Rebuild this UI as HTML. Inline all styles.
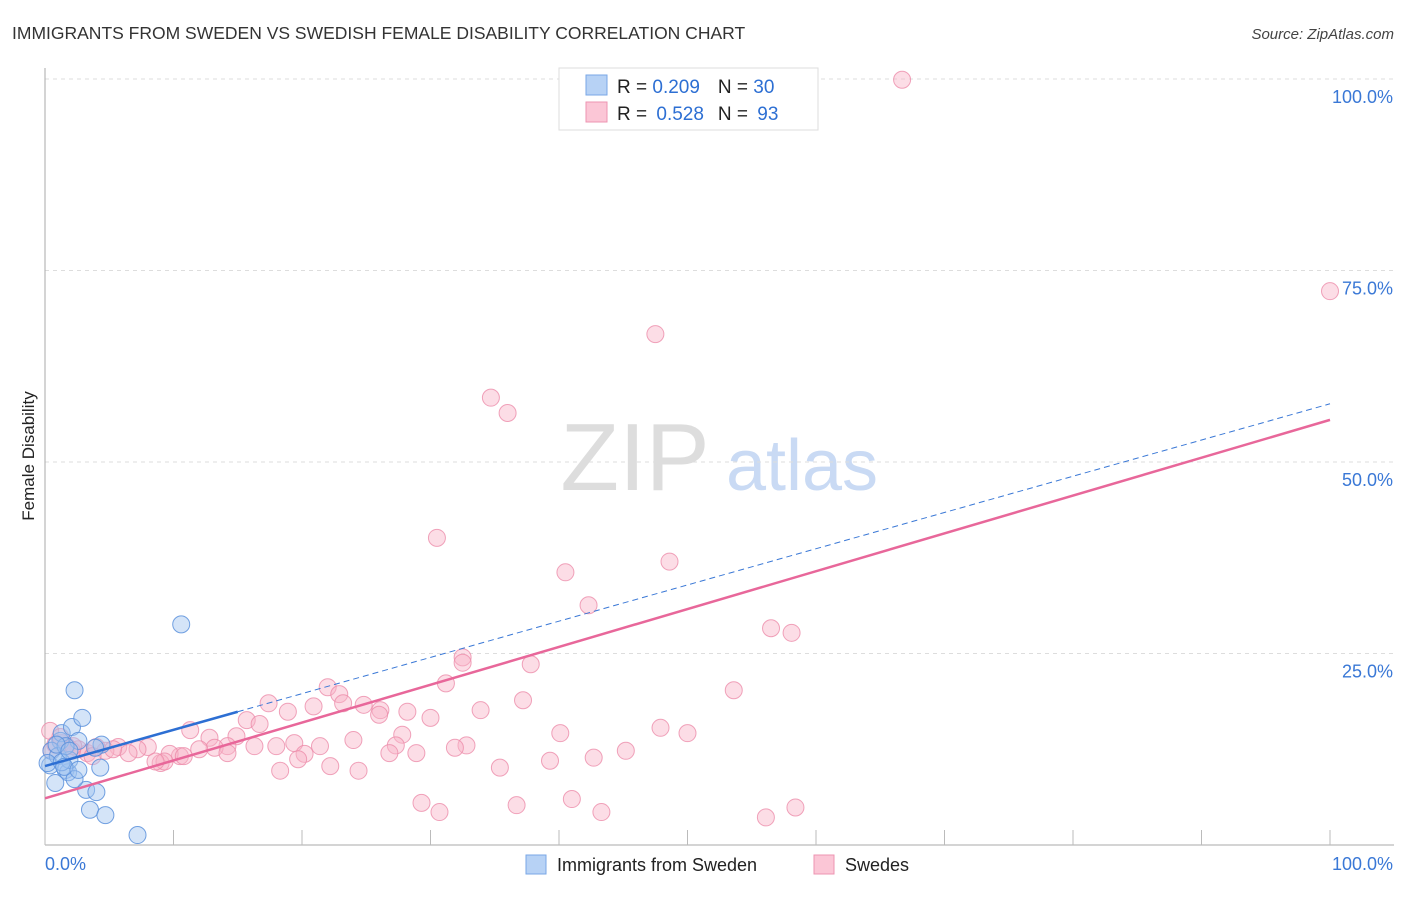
<!DOCTYPE html>
<html><head><meta charset="utf-8"><style>
body{margin:0;background:#fff;font-family:"Liberation Sans",sans-serif;}
svg text{font-family:"Liberation Sans",sans-serif;}
</style></head><body>
<svg id="chart" width="1406" height="892" xmlns="http://www.w3.org/2000/svg">
<text x="12" y="39" font-size="17.5" fill="#333">IMMIGRANTS FROM SWEDEN VS SWEDISH FEMALE DISABILITY CORRELATION CHART</text>
<text x="1394" y="39" font-size="15" fill="#444" text-anchor="end" font-style="italic">Source: ZipAtlas.com</text>
<text x="34" y="456" font-size="17" fill="#222" text-anchor="middle" transform="rotate(-90 34 456)">Female Disability</text>
<g><text x="635" y="490" font-size="96" fill="#ddd" text-anchor="middle" font-family="Liberation Serif,serif">ZIP</text><text x="802" y="490" font-size="72" fill="#c9daf4" text-anchor="middle">atlas</text></g>
<g id="grid"></g><g id="axes"></g><g id="pts"></g><g id="lines"></g>
<g>
<rect x="559" y="68" width="259" height="62" fill="#fff" stroke="#ddd"/>
<rect x="586" y="75" width="21" height="20" fill="#b7d2f5" stroke="#7aa7e6"/>
<rect x="586" y="102" width="21" height="20" fill="#fbc6d6" stroke="#ee94b2"/>
<text x="617" y="93" font-size="19" fill="#222">R = <tspan fill="#2d6fd3">0.209</tspan><tspan dx="18">N = </tspan><tspan fill="#2d6fd3">30</tspan></text>
<text x="617" y="120" font-size="19" fill="#222">R = <tspan fill="#2d6fd3" dx="4">0.528</tspan><tspan dx="14">N = </tspan><tspan fill="#2d6fd3" dx="4">93</tspan></text>
</g>
<g>
<rect x="526" y="855" width="20" height="19" fill="#b7d2f5" stroke="#7aa7e6"/>
<text x="557" y="871" font-size="18" fill="#222">Immigrants from Sweden</text>
<rect x="814" y="855" width="20" height="19" fill="#fbc6d6" stroke="#ee94b2"/>
<text x="845" y="871" font-size="18" fill="#222">Swedes</text>
</g>
</svg>
<script>
const yTicks=[25,50,75,100];
const yTickLabels=["25.0%","50.0%","75.0%","100.0%"];
const xTicks=[0,10,20,30,40,50,60,70,80,90,100];
const blueX=[0.4,0.8,1.2,1.3,1.6,1.8,1.9,2.1,2.3,2.6,2.9,3.2,3.5,4.0,4.3,4.4,4.7,7.2,10.6,0.5,1.0,0.2,1.6,2.3,1.3,0.9,1.9,3.9,1.5,2.6];
const blueY=[10.4,8.1,13.6,14.6,9.8,9.5,11.1,15.4,20.2,13.6,16.6,7.2,4.6,6.9,10.1,13.1,3.9,1.3,28.8,12.3,11.6,10.7,12.9,8.6,10.8,13.1,12.3,12.7,10.2,9.8];
const pinkX=[66.7,100,47.5,34.7,36.0,30.5,40.5,48.6,42.3,56.5,58.1,32.5,32.5,37.8,31.2,53.6,22.0,17.4,22.9,23.2,20.9,18.9,24.8,26.1,26.0,28.2,30.0,37.2,33.9,15.7,11.3,16.7,14.9,47.9,50.0,40.1,27.8,24.0,12.8,19.4,21.4,18.0,16.3,14.2,27.3,13.2,12.0,32.8,31.9,45.2,26.8,28.9,20.2,19.7,10.5,9.7,8.0,7.2,5.7,4.7,3.3,2.6,1.3,0.5,0.4,0.8,1.7,2.1,4.0,6.5,9.0,9.3,8.6,10.8,14.2,42.7,39.3,22.2,24.4,35.4,18.3,29.3,30.7,36.7,41.0,43.3,56.1,58.4,1.2,2.2,3.7,5.3];
const pinkY=[99.9,72.3,66.7,58.4,56.4,40.1,35.6,37.0,31.3,28.3,27.7,24.5,23.8,23.6,21.1,20.2,20.6,18.5,19.7,18.5,18.1,17.4,18.3,17.6,17.0,17.4,16.6,18.9,17.6,16.3,15.0,15.8,14.2,15.3,14.6,14.6,14.4,13.7,14.0,13.3,12.9,12.9,12.9,12.9,13.0,12.7,12.5,13.0,12.7,12.3,12.0,12.0,11.9,11.2,11.6,11.9,12.8,12.5,12.8,12.3,12.0,12.5,13.3,12.3,14.9,13.1,12.9,12.3,12.8,12.0,10.7,10.9,10.9,11.6,12.0,11.4,11.0,10.3,9.7,10.1,9.7,5.5,4.3,5.2,6.0,4.3,3.6,4.9,14.1,12.9,11.6,12.5];
const blueFit=[10.3,57.6];
const pinkFit=[6.1,55.5];
const NS="http://www.w3.org/2000/svg";
const X0=45,X1=1330,Y0=845,Y1=79;
function sx(v){return X0+(X1-X0)*v/100;}
function sy(v){return Y0-(Y0-Y1)*v/100;}
function mk(t,a,p){const e=document.createElementNS(NS,t);for(const k in a)e.setAttribute(k,a[k]);p.appendChild(e);return e;}
const grid=document.getElementById('grid'),axes=document.getElementById('axes'),pts=document.getElementById('pts'),lines=document.getElementById('lines');
yTicks.forEach((v,i)=>{
 const l=mk('line',{x1:X0,x2:1394,y1:sy(v),y2:sy(v),stroke:'#ddd','stroke-dasharray':'4,4'},grid);
 
 
 const t=mk('text',{x:1393,y:sy(v)+24,'font-size':18,fill:'#3a78d6','text-anchor':'end'},axes);
 t.textContent=yTickLabels[i];
 
 
});
let a=mk('line',{x1:X0,x2:X0,y1:68,y2:Y0,stroke:'#aaa'},axes);


a=mk('line',{x1:X0,x2:1394,y1:Y0,y2:Y0,stroke:'#aaa'},axes);


xTicks.forEach(v=>{
 const t=mk('line',{x1:sx(v),x2:sx(v),y1:Y0,y2:Y0-15,stroke:'#bbb'},axes);
 
 
});
let t=mk('text',{x:45,y:870,'font-size':18,fill:'#3a78d6'},axes);t.textContent='0.0%';


t=mk('text',{x:1393,y:870,'font-size':18,fill:'#3a78d6','text-anchor':'end'},axes);t.textContent='100.0%';


pinkX.forEach((x,i)=>{
 const c=mk('circle',{cx:sx(x),cy:sy(pinkY[i]),r:8.5,fill:'rgba(248,180,200,0.45)',stroke:'rgba(236,140,170,0.8)','stroke-width':1},pts);
 
 
});
blueX.forEach((x,i)=>{
 const c=mk('circle',{cx:sx(x),cy:sy(blueY[i]),r:8.5,fill:'rgba(160,196,240,0.45)',stroke:'rgba(90,145,220,0.85)','stroke-width':1},pts);
 
 
});
function fy(f,x){return f[0]+(f[1]-f[0])*x/100;}
let l=mk('line',{x1:sx(15),y1:sy(fy(blueFit,15)),x2:sx(100),y2:sy(fy(blueFit,100)),stroke:'#3a78d6','stroke-width':1,'stroke-dasharray':'6,4'},lines);


l=mk('line',{x1:sx(0),y1:sy(fy(blueFit,0)),x2:sx(15),y2:sy(fy(blueFit,15)),stroke:'#2d6fd3','stroke-width':2.5},lines);


l=mk('line',{x1:sx(0),y1:sy(fy(pinkFit,0)),x2:sx(100),y2:sy(fy(pinkFit,100)),stroke:'#e8679a','stroke-width':2.5},lines);


</script>
</body></html>
